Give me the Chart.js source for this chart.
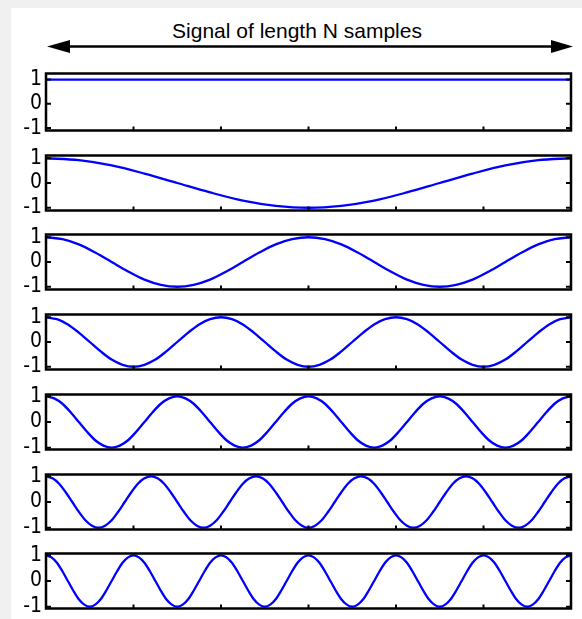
<!DOCTYPE html>
<html>
<head>
<meta charset="utf-8">
<script src="https://cdn.jsdelivr.net/npm/chart.js@4.4.1/dist/chart.umd.min.js"></script>
<style>
  html, body { margin: 0; padding: 0; background: #f0f0f0; }
  #page { position: absolute; left: 0; top: 0; width: 582px; height: 619px; overflow: hidden; }
  #sheet { position: absolute; left: 11px; top: 8px; width: 571px; height: 611px; background: #fff; }
  #title { position: absolute; left: 97px; width: 400px; top: 20px; text-align: center;
           font: 21px/21px "Liberation Sans", Arial, sans-serif; color: #000; }
  #arrow { position: absolute; left: 0; top: 0; }
  canvas { position: absolute; left: 0; }
</style>
</head>
<body>
<div id="page">
  <div id="sheet"></div>
  <div id="title"></div>
  <svg id="arrow" width="582" height="70">
    <line x1="62" y1="46.5" x2="557" y2="46.5" stroke="#000" stroke-width="2.5"/>
    <polygon points="47,46.5 70,40 70,53" fill="#000"/>
    <polygon points="573,46.5 551,40 551,53" fill="#000"/>
  </svg>
</div>
<script>
// data: one row of samples per panel, evenly spaced over the signal
const titleText = 'Signal of length N samples';
const yTicks = [-1, 0, 1];
const xTicks = [0, 10, 20, 30, 40, 50, 60];
const xMax = 60;

const wave0 = [1, 1];
const wave1 = [1, 0.92, 0.71, 0.38, 0, -0.38, -0.71, -0.92,
               -1, -0.92, -0.71, -0.38, 0, 0.38, 0.71, 0.92, 1];
const wave2 = [1, 0.92, 0.71, 0.38, 0, -0.38, -0.71, -0.92,
               -1, -0.92, -0.71, -0.38, 0, 0.38, 0.71, 0.92,
               1, 0.92, 0.71, 0.38, 0, -0.38, -0.71, -0.92,
               -1, -0.92, -0.71, -0.38, 0, 0.38, 0.71, 0.92, 1];
const wave3 = [1, 0.92, 0.71, 0.38, 0, -0.38, -0.71, -0.92,
               -1, -0.92, -0.71, -0.38, 0, 0.38, 0.71, 0.92,
               1, 0.92, 0.71, 0.38, 0, -0.38, -0.71, -0.92,
               -1, -0.92, -0.71, -0.38, 0, 0.38, 0.71, 0.92,
               1, 0.92, 0.71, 0.38, 0, -0.38, -0.71, -0.92,
               -1, -0.92, -0.71, -0.38, 0, 0.38, 0.71, 0.92, 1];
const wave4 = [1, 0.92, 0.71, 0.38, 0, -0.38, -0.71, -0.92,
               -1, -0.92, -0.71, -0.38, 0, 0.38, 0.71, 0.92,
               1, 0.92, 0.71, 0.38, 0, -0.38, -0.71, -0.92,
               -1, -0.92, -0.71, -0.38, 0, 0.38, 0.71, 0.92,
               1, 0.92, 0.71, 0.38, 0, -0.38, -0.71, -0.92,
               -1, -0.92, -0.71, -0.38, 0, 0.38, 0.71, 0.92,
               1, 0.92, 0.71, 0.38, 0, -0.38, -0.71, -0.92,
               -1, -0.92, -0.71, -0.38, 0, 0.38, 0.71, 0.92, 1];
const wave5 = [1, 0.92, 0.71, 0.38, 0, -0.38, -0.71, -0.92,
               -1, -0.92, -0.71, -0.38, 0, 0.38, 0.71, 0.92,
               1, 0.92, 0.71, 0.38, 0, -0.38, -0.71, -0.92,
               -1, -0.92, -0.71, -0.38, 0, 0.38, 0.71, 0.92,
               1, 0.92, 0.71, 0.38, 0, -0.38, -0.71, -0.92,
               -1, -0.92, -0.71, -0.38, 0, 0.38, 0.71, 0.92,
               1, 0.92, 0.71, 0.38, 0, -0.38, -0.71, -0.92,
               -1, -0.92, -0.71, -0.38, 0, 0.38, 0.71, 0.92,
               1, 0.92, 0.71, 0.38, 0, -0.38, -0.71, -0.92,
               -1, -0.92, -0.71, -0.38, 0, 0.38, 0.71, 0.92, 1];
const wave6 = [1, 0.92, 0.71, 0.38, 0, -0.38, -0.71, -0.92,
               -1, -0.92, -0.71, -0.38, 0, 0.38, 0.71, 0.92,
               1, 0.92, 0.71, 0.38, 0, -0.38, -0.71, -0.92,
               -1, -0.92, -0.71, -0.38, 0, 0.38, 0.71, 0.92,
               1, 0.92, 0.71, 0.38, 0, -0.38, -0.71, -0.92,
               -1, -0.92, -0.71, -0.38, 0, 0.38, 0.71, 0.92,
               1, 0.92, 0.71, 0.38, 0, -0.38, -0.71, -0.92,
               -1, -0.92, -0.71, -0.38, 0, 0.38, 0.71, 0.92,
               1, 0.92, 0.71, 0.38, 0, -0.38, -0.71, -0.92,
               -1, -0.92, -0.71, -0.38, 0, 0.38, 0.71, 0.92,
               1, 0.92, 0.71, 0.38, 0, -0.38, -0.71, -0.92,
               -1, -0.92, -0.71, -0.38, 0, 0.38, 0.71, 0.92, 1];

const waves = [wave0, wave1, wave2, wave3, wave4, wave5, wave6];

// layout of the panels (pixels) and their y limits
const panelTop = [73, 155, 234, 314, 394, 474, 553];
const panelHeight = [58, 56, 56, 56, 56, 56, 56];
const yLimits = [[-1.1, 1.25], [-1.11, 1.11], [-1.11, 1.11], [-1.11, 1.11],
                 [-1.07, 1.07], [-1.07, 1.07], [-1.07, 1.07]];
const PAD = 14;
const labelFont = '"Liberation Sans Narrow", "DejaVu Sans Condensed", Arial, sans-serif';

document.getElementById('title').textContent = titleText;

// box around each panel, with inward ticks like the original
const boxPlugin = {
    id: 'box',
    afterDraw(chart) {
        const { ctx, chartArea: a } = chart;
        const x = chart.scales.x, y = chart.scales.y;
        ctx.save();
        ctx.strokeStyle = '#000';
        ctx.lineWidth = 2;
        ctx.beginPath();
        yTicks.forEach(v => {
            const py = y.getPixelForValue(v);
            ctx.moveTo(a.left, py); ctx.lineTo(a.left + 5, py);
            ctx.moveTo(a.right, py); ctx.lineTo(a.right - 5, py);
        });
        xTicks.forEach(v => {
            const px = x.getPixelForValue(v);
            ctx.moveTo(px, a.bottom); ctx.lineTo(px, a.bottom - 4);
        });
        ctx.stroke();
        ctx.lineWidth = 2.5;
        ctx.strokeRect(a.left, a.top, a.right - a.left, a.bottom - a.top);
        ctx.restore();
    }
};

const page = document.getElementById('page');
waves.forEach((wave, k) => {
    const canvas = document.createElement('canvas');
    canvas.width = 582;
    canvas.height = panelHeight[k] + 2 * PAD;
    canvas.style.top = (panelTop[k] - PAD) + 'px';
    page.appendChild(canvas);

    new Chart(canvas, {
        type: 'line',
        data: {
            datasets: [{
                data: wave.map((v, i) => ({ x: i * xMax / (wave.length - 1), y: v })),
                borderColor: '#0000ff',
                borderWidth: 2.3,
                pointRadius: 0,
                cubicInterpolationMode: 'monotone',
                fill: false
            }]
        },
        options: {
            responsive: false,
            animation: false,
            events: [],
            layout: { padding: { top: PAD, bottom: PAD, left: 0, right: 11 } },
            plugins: { legend: { display: false }, tooltip: { enabled: false } },
            scales: {
                x: { type: 'linear', display: false, min: 0, max: xMax },
                y: {
                    min: yLimits[k][0],
                    max: yLimits[k][1],
                    grid: { display: false, drawTicks: false },
                    border: { display: false },
                    afterBuildTicks: s => { s.ticks = yTicks.map(v => ({ value: v })); },
                    afterFit: s => { s.width = 46; },
                    ticks: {
                        padding: 4,
                        color: '#000',
                        font: { family: labelFont, size: 21, lineHeight: 1 }
                    }
                }
            }
        },
        plugins: [boxPlugin]
    });
});
</script>
</body>
</html>
